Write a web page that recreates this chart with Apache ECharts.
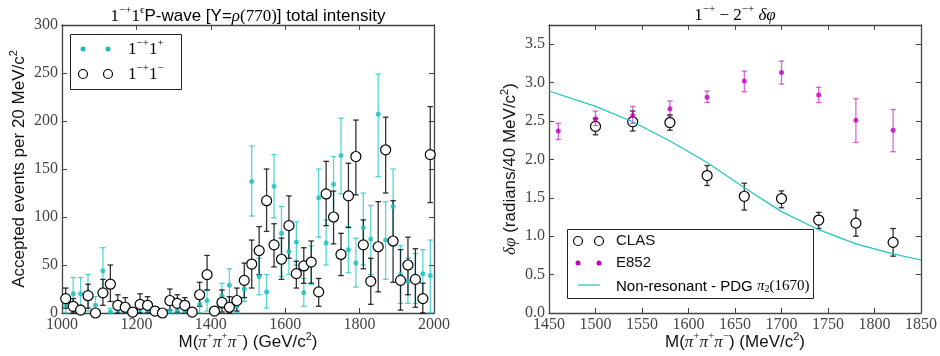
<!DOCTYPE html>
<html><head><meta charset="utf-8">
<script src="https://cdn.jsdelivr.net/npm/echarts@6/dist/echarts.min.js"></script>
<style>html,body{margin:0;padding:0;background:#fff}#c{width:940px;height:356px}</style>
</head><body><div id="c"></div>
<script>
// ---- Left panel data: 1-+1 P-wave intensity, 20 MeV bins ----
const massL = [1010,1030,1050,1070,1090,1110,1130,1150,1170,1190,1210,1230,1250,1270,1290,1310,1330,1350,1370,1390,1410,1430,1450,1470,1490,1510,1530,1550,1570,1590,1610,1630,1650,1670,1690,1710,1730,1750,1770,1790,1810,1830,1850,1870,1890,1910,1930,1950,1970,1990];
// 1-+1- (open circles)
const minusVal = [15,7,3,18,0,21,30,8,6,1,9,8,2,0,13,10,8,1,19,40,2,11,6,13,34,51,65,117,71,56,91,41,49,53,22,124,100,61,122,163,71,33,69,170,75,34,50,35,15,165];
const minusLo  = [5,0,0,5,0,8,12,0,0,0,0,0,0,0,3,1,0,0,7,24,0,1,0,2,16,26,40,85,48,35,57,26,31,31,7,91,72,39,89,123,46,9,22,125,32,3,19,6,0,115];
const minusHi  = [26,15,8,30,3,35,50,19,16,4,20,17,5,2,25,19,16,4,32,60,5,24,17,26,52,76,90,150,93,78,122,54,68,75,36,158,127,83,156,201,97,57,116,204,117,66,79,67,31,215];
// 1-+1+ (cyan dots)
const plusVal = [8,20,20,21,8,44,1,3,2,0,4,3,0,0,2,3,2,0,9,13,0,18,29,7,25,137,38,22,132,83,64,74,21,50,120,73,134,164,66,52,89,77,207,76,111,40,33,37,41,39];
const plusLo  = [0,2,2,2,0,21,0,0,0,0,0,0,0,0,0,0,0,0,0,2,0,5,11,0,12,101,19,5,99,38,40,50,7,30,79,50,100,124,42,27,50,40,142,35,70,10,10,10,17,0];
const plusHi  = [17,37,37,40,17,68,5,8,6,3,12,8,2,2,8,9,6,3,19,24,3,31,46,17,38,174,57,40,165,111,88,95,36,70,150,97,163,203,90,78,125,112,249,116,150,70,57,62,66,76];
const yTicksL = [0,50,100,150,200,250,300];

// ---- Right panel data: phase difference ----
const e852Mass = [1460,1500,1540,1580,1620,1660,1700,1740,1780,1820];
const e852Val  = [2.37,2.53,2.57,2.66,2.81,3.02,3.13,2.84,2.51,2.38];
const e852Lo   = [2.26,2.44,2.47,2.56,2.74,2.88,2.98,2.74,2.22,2.10];
const e852Hi   = [2.47,2.63,2.69,2.76,2.89,3.15,3.28,2.94,2.79,2.65];
const clasMass = [1500,1540,1580,1620,1660,1700,1740,1780,1820];
const clasVal  = [2.43,2.49,2.48,1.79,1.52,1.49,1.21,1.17,0.92];
const clasLo   = [2.32,2.37,2.38,1.66,1.34,1.37,1.10,1.00,0.74];
const clasHi   = [2.53,2.63,2.58,1.92,1.69,1.59,1.31,1.34,1.10];
const curveMass = [1450,1500,1540,1580,1620,1660,1700,1740,1780,1820,1850];
const curveVal  = [2.89,2.69,2.49,2.24,1.96,1.63,1.32,1.085,0.90,0.77,0.69];

const SERIF = "'Liberation Serif','DejaVu Serif',serif";
const SANS = "'Liberation Sans',Arial,sans-serif";
const CYAN = '#17bebe', CYAN_BAR = 'rgba(0,191,191,0.65)';
const MAG = '#bf00bf', MAG_BAR = 'rgba(191,0,191,0.6)';
const BLK_BAR = 'rgba(0,0,0,0.8)';

function errRender(color) {
  return function (params, api) {
    const x = api.value(0);
    const lo = api.coord([x, api.value(1)]);
    const hi = api.coord([x, api.value(2)]);
    const cw = 2.8;
    const st = { stroke: color, lineWidth: 1.3 };
    return { type: 'group', children: [
      { type: 'line', shape: { x1: lo[0], y1: lo[1], x2: hi[0], y2: hi[1] }, style: st },
      { type: 'line', shape: { x1: lo[0] - cw, y1: lo[1], x2: lo[0] + cw, y2: lo[1] }, style: st },
      { type: 'line', shape: { x1: hi[0] - cw, y1: hi[1], x2: hi[0] + cw, y2: hi[1] }, style: st }
    ]};
  };
}
function errSeries(xs, lo, hi, color, xi, yi) {
  return { type: 'custom', xAxisIndex: xi, yAxisIndex: yi, renderItem: errRender(color),
    encode: { x: 0, y: [1, 2] }, data: xs.map((m, i) => [m, lo[i], hi[i]]), z: 2 };
}

const richMath = {
  m: { fontFamily: SERIF, fontSize: 17, lineHeight: 20, verticalAlign: 'bottom', color: '#222' },
  mi: { fontFamily: SERIF, fontSize: 17, fontStyle: 'italic', lineHeight: 20, verticalAlign: 'bottom', color: '#222' },
  sup: { fontFamily: SERIF, fontSize: 11, lineHeight: 20, verticalAlign: 'top', color: '#222' },
  sub: { fontFamily: SERIF, fontSize: 11, lineHeight: 14, verticalAlign: 'bottom', color: '#222' },
  s: { fontFamily: SANS, fontSize: 17, lineHeight: 20, verticalAlign: 'bottom', color: '#111' },
  ssup: { fontFamily: SANS, fontSize: 11, lineHeight: 20, verticalAlign: 'top', color: '#111' }
};

function axisCommon(extra) {
  return Object.assign({
    type: 'value',
    axisLine: { show: true, onZero: false, lineStyle: { color: '#444', width: 1.3 } },
    axisTick: { show: true, inside: true, length: 5, lineStyle: { color: '#444' } },
    splitLine: { show: false },
    nameMoveOverlap: false,
    axisLabel: { fontFamily: SERIF, fontSize: 16, color: '#444', margin: 4, formatter: v => String(v) }
  }, extra);
}

const option = {
  animation: false,
  backgroundColor: '#fff',
  grid: [
    { left: 62, right: 506, top: 25, bottom: 43, containLabel: false, outerBoundsMode: 'none' },
    { left: 549, right: 19, top: 25, bottom: 43, containLabel: false, outerBoundsMode: 'none' }
  ],
  xAxis: [
    axisCommon({ gridIndex: 0, position: 'bottom', min: 1000, max: 2000, interval: 200,
      name: '{s|M(}{mi|π}{sup|+}{mi|π}{sup|+}{mi|π}{sup|−}{s|) (GeV/c}{ssup|2}{s|)}',
      nameLocation: 'middle', nameGap: 18, nameTextStyle: { rich: richMath } }),
    axisCommon({ gridIndex: 0, position: 'top', min: 1000, max: 2000, interval: 200, axisLabel: { show: false } }),
    axisCommon({ gridIndex: 1, position: 'bottom', min: 1450, max: 1850, interval: 50,
      name: '{s|M(}{mi|π}{sup|+}{mi|π}{sup|+}{mi|π}{sup|−}{s|) (MeV/c}{ssup|2}{s|)}',
      nameLocation: 'middle', nameGap: 18, nameTextStyle: { rich: richMath } }),
    axisCommon({ gridIndex: 1, position: 'top', min: 1450, max: 1850, interval: 50, axisLabel: { show: false } })
  ],
  yAxis: [
    axisCommon({ gridIndex: 0, position: 'left', min: 0, max: 300, interval: 50,
      axisLabel: { fontFamily: SERIF, fontSize: 16, color: '#444', margin: 4,
        formatter: v => yTicksL.includes(v) ? String(v) : '' },
      name: '{s|Accepted events per 20 MeV/c}{ssup|2}', nameLocation: 'middle', nameGap: 34,
      nameTextStyle: { rich: richMath } }),
    axisCommon({ gridIndex: 0, position: 'right', min: 0, max: 300, interval: 50, axisLabel: { show: false } }),
    axisCommon({ gridIndex: 1, position: 'left', min: 0, max: 3.75, interval: 0.5,
      axisLabel: { fontFamily: SERIF, fontSize: 16, color: '#444', margin: 4,
        formatter: v => (Math.abs(v * 2 - Math.round(v * 2)) < 1e-6 ? v.toFixed(1) : '') },
      name: '{mi|δφ}{s| (radians/40 MeV/c}{ssup|2}{s|)}', nameLocation: 'middle', nameGap: 30,
      nameTextStyle: { rich: richMath } }),
    axisCommon({ gridIndex: 1, position: 'right', min: 0, max: 3.75, interval: 0.5, axisLabel: { show: false } })
  ],
  series: [
    errSeries(massL, plusLo, plusHi, CYAN_BAR, 0, 0),
    { type: 'scatter', xAxisIndex: 0, yAxisIndex: 0, symbol: 'circle', symbolSize: 5,
      itemStyle: { color: CYAN }, data: massL.map((m, i) => [m, plusVal[i]]), z: 3 },
    errSeries(massL, minusLo, minusHi, BLK_BAR, 0, 0),
    { type: 'scatter', xAxisIndex: 0, yAxisIndex: 0, symbol: 'circle', symbolSize: 10,
      itemStyle: { color: '#fff', borderColor: '#000', borderWidth: 1.2, opacity: 1 },
      data: massL.map((m, i) => [m, minusVal[i]]), z: 4 },

    errSeries(clasMass, clasLo, clasHi, BLK_BAR, 2, 2),
    { type: 'scatter', xAxisIndex: 2, yAxisIndex: 2, symbol: 'circle', symbolSize: 10,
      itemStyle: { color: '#fff', borderColor: '#000', borderWidth: 1.2, opacity: 1 },
      data: clasMass.map((m, i) => [m, clasVal[i]]), z: 3 },
    Object.assign(errSeries(e852Mass, e852Lo, e852Hi, MAG_BAR, 2, 2), { z: 4 }),
    { type: 'scatter', xAxisIndex: 2, yAxisIndex: 2, symbol: 'circle', symbolSize: 5,
      itemStyle: { color: MAG }, data: e852Mass.map((m, i) => [m, e852Val[i]]), z: 5 },
    { type: 'line', xAxisIndex: 2, yAxisIndex: 2, showSymbol: false, symbol: 'none',
      lineStyle: { color: '#1cc6c6', width: 1.2 }, data: curveMass.map((m, i) => [m, curveVal[i]]), z: 6, clip: true }
  ],
  graphic: [
    // Titles
    { type: 'text', x: 248, y: 15, style: { align: 'center', verticalAlign: 'middle',
      text: '{m|1}{sup|−+}{m|1}{sup|ϵ}{s|P-wave [Y=}{mi|ρ}{m|(770)}{s|] total intensity}', rich: richMath } },
    { type: 'text', x: 735, y: 14, style: { align: 'center', verticalAlign: 'middle',
      text: '{m|1}{sup|−+}{m| − 2}{sup|−+}{m| }{mi|δφ}', rich: richMath } },
    // Left legend
    { type: 'rect', shape: { x: 70.5, y: 34.5, width: 111, height: 55 }, style: { fill: '#fff', stroke: '#222', lineWidth: 1 }, z: 10 },
    { type: 'circle', shape: { cx: 83, cy: 49, r: 2.5 }, style: { fill: CYAN }, z: 11 },
    { type: 'circle', shape: { cx: 108, cy: 49, r: 2.5 }, style: { fill: CYAN }, z: 11 },
    { type: 'circle', shape: { cx: 83, cy: 74, r: 4.5 }, style: { fill: '#fff', stroke: '#000', lineWidth: 1.2 }, z: 11 },
    { type: 'circle', shape: { cx: 108, cy: 74, r: 4.5 }, style: { fill: '#fff', stroke: '#000', lineWidth: 1.2 }, z: 11 },
    { type: 'text', x: 128, y: 48, z: 11, style: { verticalAlign: 'middle', text: '{m|1}{sup|−+}{m|1}{sup|+}', rich: richMath } },
    { type: 'text', x: 128, y: 73, z: 11, style: { verticalAlign: 'middle', text: '{m|1}{sup|−+}{m|1}{sup|−}', rich: richMath } },
    // Right legend
    { type: 'rect', shape: { x: 567.5, y: 229.5, width: 246, height: 69 }, style: { fill: '#fff', stroke: '#222', lineWidth: 1 }, z: 10 },
    { type: 'circle', shape: { cx: 578, cy: 241, r: 4.5 }, style: { fill: '#fff', stroke: '#000', lineWidth: 1.2 }, z: 11 },
    { type: 'circle', shape: { cx: 599, cy: 241, r: 4.5 }, style: { fill: '#fff', stroke: '#000', lineWidth: 1.2 }, z: 11 },
    { type: 'circle', shape: { cx: 578, cy: 263, r: 2.5 }, style: { fill: MAG }, z: 11 },
    { type: 'circle', shape: { cx: 599, cy: 263, r: 2.5 }, style: { fill: MAG }, z: 11 },
    { type: 'line', shape: { x1: 578, y1: 285, x2: 600, y2: 285 }, style: { stroke: '#1cc6c6', lineWidth: 1.2 }, z: 11 },
    { type: 'text', x: 616, y: 241, z: 11, style: { verticalAlign: 'middle', text: 'CLAS', font: '15px ' + SANS, fill: '#111' } },
    { type: 'text', x: 616, y: 263, z: 11, style: { verticalAlign: 'middle', text: 'E852', font: '15px ' + SANS, fill: '#111' } },
    { type: 'text', x: 616, y: 285, z: 11, style: { verticalAlign: 'middle',
      text: '{t|Non-resonant - PDG }{pi|π}{sub|2}{n|(1670)}',
      rich: {
        t: { fontFamily: SANS, fontSize: 15, color: '#111', lineHeight: 18, verticalAlign: 'bottom' },
        pi: { fontFamily: SERIF, fontSize: 15, fontStyle: 'italic', color: '#333', lineHeight: 18, verticalAlign: 'bottom' },
        sub: { fontFamily: SERIF, fontSize: 10, color: '#333', lineHeight: 14, verticalAlign: 'bottom' },
        n: { fontFamily: SERIF, fontSize: 15, color: '#333', lineHeight: 18, verticalAlign: 'bottom' }
      } } }
  ]
};
const chart = echarts.init(document.getElementById('c'), null, { renderer: 'canvas' });
chart.setOption(option);
</script>
</body></html>
